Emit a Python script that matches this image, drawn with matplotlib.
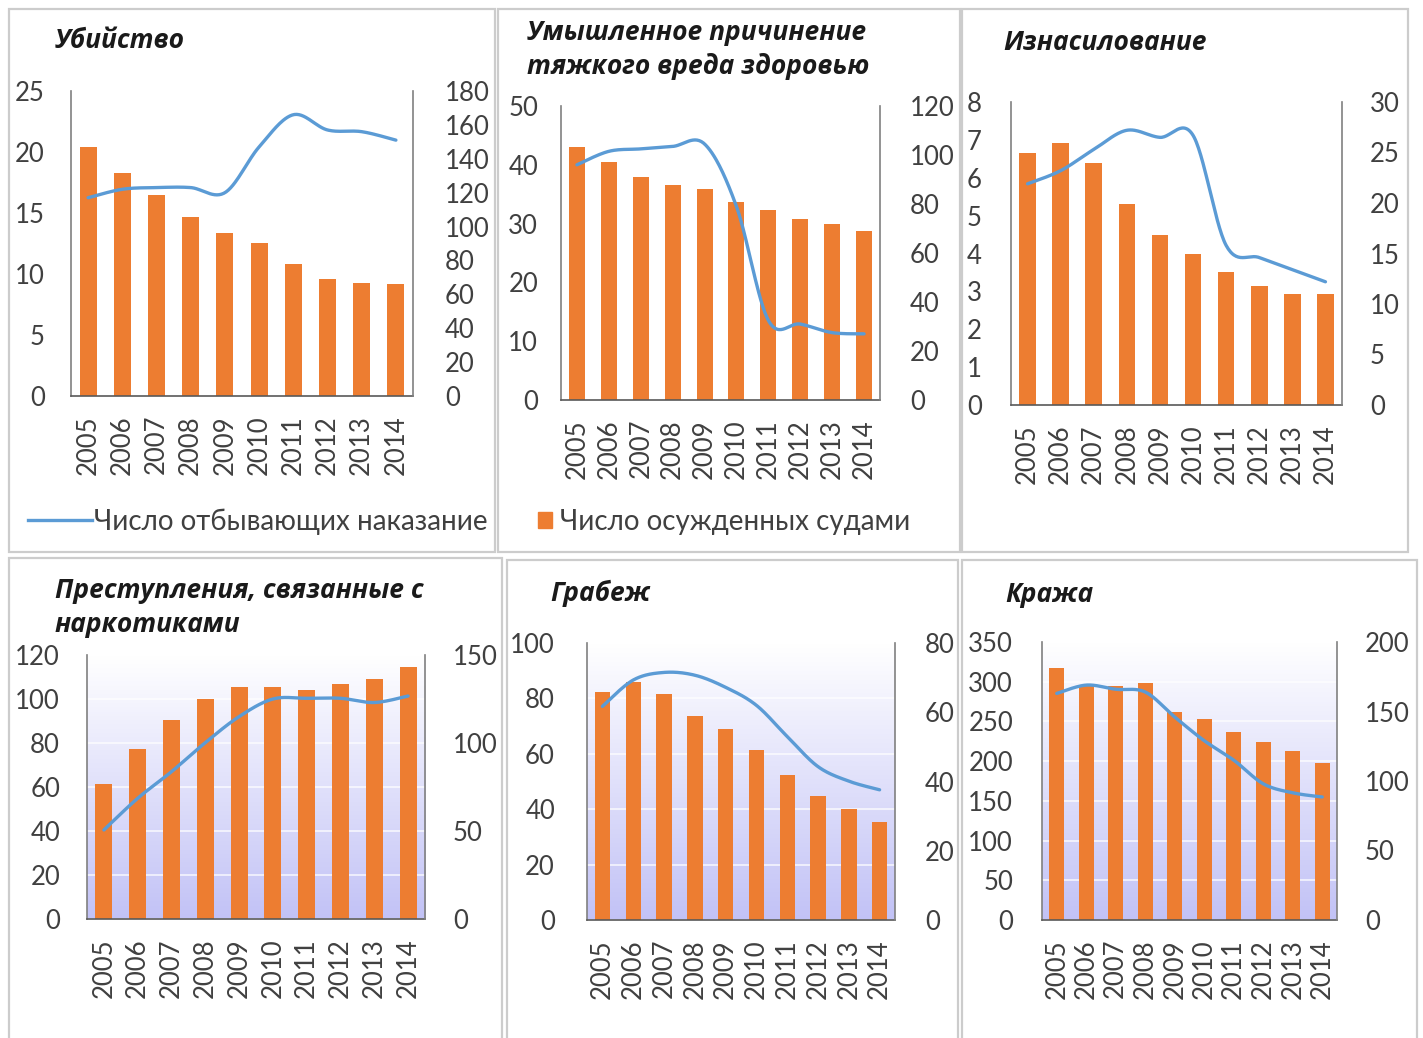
import numpy as np
import matplotlib
matplotlib.use("Agg")
import matplotlib.pyplot as plt
from matplotlib.patches import Rectangle
from matplotlib.lines import Line2D

plt.rcParams['font.family'] = ['Lato', 'Open Sans', 'DejaVu Sans']

# ---------------- data ----------------
years = ['2005', '2006', '2007', '2008', '2009', '2010', '2011', '2012', '2013', '2014']

murder_convicted = [20.4, 18.3, 16.5, 14.7, 13.4, 12.5, 10.8, 9.6, 9.3, 9.2]
murder_serving = [117, 122, 123, 123, 120, 147, 166, 157, 156, 151]

harm_convicted = [43.0, 40.5, 38.0, 36.6, 35.9, 33.7, 32.3, 30.8, 29.9, 28.8]
harm_serving = [96, 101.5, 102.5, 103.5, 104.5, 79, 32.5, 31, 27.5, 27]

rape_convicted = [6.65, 6.92, 6.4, 5.32, 4.5, 4.0, 3.52, 3.13, 2.94, 2.94]
rape_serving = [21.9, 23.2, 25.3, 27.2, 26.5, 26.7, 15.8, 14.6, 13.4, 12.2]

drugs_convicted = [61.2, 77.3, 90.5, 100, 105.5, 105.5, 104.1, 106.7, 109, 114.7]
drugs_serving = [50.6, 68.6, 83.7, 100.2, 115, 125, 125.4, 125.4, 123, 126.7]

robbery_convicted = [82.2, 85.9, 81.7, 73.7, 68.9, 61.4, 52.2, 44.9, 40.1, 35.3]
robbery_serving = [61.7, 69.3, 71.5, 70.7, 67.2, 62.0, 53.0, 44.3, 40.1, 37.6]

theft_convicted = [317, 295, 295, 298, 262, 253, 237, 224, 213, 198]
theft_serving = [163, 169, 166, 164, 146, 129, 115, 98, 91.5, 88.5]

titles = [
    ['Убийство'],
    ['Умышленное причинение', 'тяжкого вреда здоровью'],
    ['Изнасилование'],
    ['Преступления, связанные с', 'наркотиками'],
    ['Грабеж'],
    ['Кража'],
]
legend_line = 'Число отбывающих наказание'
legend_bar = 'Число осужденных судами'

left_ticks = [[0, 5, 10, 15, 20, 25], [0, 10, 20, 30, 40, 50], [0, 1, 2, 3, 4, 5, 6, 7, 8],
              [0, 20, 40, 60, 80, 100, 120], [0, 20, 40, 60, 80, 100],
              [0, 50, 100, 150, 200, 250, 300, 350]]
right_ticks = [[0, 20, 40, 60, 80, 100, 120, 140, 160, 180], [0, 20, 40, 60, 80, 100, 120],
               [0, 5, 10, 15, 20, 25, 30], [0, 50, 100, 150], [0, 20, 40, 60, 80],
               [0, 50, 100, 150, 200]]

convicted = [murder_convicted, harm_convicted, rape_convicted,
             drugs_convicted, robbery_convicted, theft_convicted]
serving = [murder_serving, harm_serving, rape_serving,
           drugs_serving, robbery_serving, theft_serving]

# ---------------- layout (pixels) ----------------
W, H = 1423, 1038
BAR_C = '#ED7D31'
LINE_C = '#5B9BD5'
TXT_C = '#404040'
FS = 18.5
LEG_FS = 20
TITLE_FS = 19

boxes = [(9, 9, 495, 552), (498, 9, 960, 552), (962, 9, 1408, 552),
         (9, 558, 502, 1045), (507, 560, 958, 1045), (962, 560, 1417, 1045)]
plots = [(71, 91, 413, 396), (561, 106, 880, 400), (1011, 102, 1342, 405),
         (87, 655, 425, 919), (587, 643, 895, 920), (1042, 642, 1337, 920)]
pads = [(26, 32), (23, 30), (29, 28), (27, 28), (32, 30), (29, 28)]
title_pos = [(55, [41]), (527, [33, 67]), (1003, [42]),
             (55, [590, 624]), (550, [593]), (1005, [595])]
gradient = [False, False, False, True, True, True]

fig = plt.figure(figsize=(W / 100, H / 100), dpi=100)


def fx(x):
    return x / W


def fy(y):
    return 1 - y / H


def smooth(xs, ys, n=30):
    xs = np.asarray(xs, float)
    ys = np.asarray(ys, float)
    px, py = [], []
    m = len(xs)
    for i in range(m - 1):
        i0, i3 = max(i - 1, 0), min(i + 2, m - 1)
        c1x = xs[i] + (xs[i + 1] - xs[i0]) / 6
        c1y = ys[i] + (ys[i + 1] - ys[i0]) / 6
        c2x = xs[i + 1] - (xs[i3] - xs[i]) / 6
        c2y = ys[i + 1] - (ys[i3] - ys[i]) / 6
        t = np.linspace(0, 1, n, endpoint=(i == m - 2))
        a = (1 - t) ** 3
        b = 3 * (1 - t) ** 2 * t
        c = 3 * (1 - t) * t ** 2
        d = t ** 3
        px.append(a * xs[i] + b * c1x + c * c2x + d * xs[i + 1])
        py.append(a * ys[i] + b * c1y + c * c2y + d * ys[i + 1])
    return np.concatenate(px), np.concatenate(py)


# panel frames
for (x0, y0, x1, y1) in boxes:
    fig.patches.append(Rectangle((fx(x0), fy(y1)), fx(x1 - x0), (y1 - y0) / H,
                                 transform=fig.transFigure, fill=False,
                                 edgecolor='#cccccc', linewidth=1.6, zorder=0))

x = np.arange(len(years))
for k in range(6):
    x0, y0, x1, y1 = plots[k]
    ax = fig.add_axes([fx(x0), fy(y1), (x1 - x0) / W, (y1 - y0) / H])
    ax.set_facecolor('none')
    ax2 = ax.twinx()
    if gradient[k]:
        top = np.array([1.0, 1.0, 1.0])
        bot = np.array([194, 194, 246]) / 255.0
        t = np.linspace(0, 1, 256)[:, None]
        img = (top[None, :] * (1 - t) + bot[None, :] * t)[:, None, :]
        ax.imshow(img, extent=[0, 1, 0, 1], transform=ax.transAxes,
                  aspect='auto', zorder=0, interpolation='bilinear')
        ax.yaxis.grid(True, color='white', linewidth=1.2, alpha=0.8)
        ax.set_axisbelow(True)
    ax.bar(x, convicted[k], width=0.5, color=BAR_C, zorder=2)
    sx, sy = smooth(x, serving[k])
    ax2.plot(sx, sy, color=LINE_C, linewidth=2.4, solid_capstyle='round')

    ax.set_xlim(-0.5, len(years) - 0.5)
    ax.set_ylim(0, left_ticks[k][-1])
    ax2.set_ylim(0, right_ticks[k][-1])
    ax.set_yticks(left_ticks[k])
    ax2.set_yticks(right_ticks[k])
    ax.set_xticks(x)
    ax.set_xticklabels(years, rotation=90)
    lp, rp = pads[k]
    ax.tick_params(axis='y', length=0, pad=lp * 0.72, labelsize=FS, labelcolor=TXT_C)
    ax2.tick_params(axis='y', length=0, pad=rp * 0.72, labelsize=FS, labelcolor=TXT_C)
    ax.tick_params(axis='x', length=0, pad=19 * 0.72, labelsize=FS, labelcolor=TXT_C)
    for a in (ax, ax2):
        a.spines['top'].set_visible(False)
        a.spines['left'].set_color('#808080')
        a.spines['right'].set_color('#808080')
        a.spines['bottom'].set_color('#595959')
        for s in ('left', 'right', 'bottom'):
            a.spines[s].set_linewidth(1.2)
    ax.spines['right'].set_visible(False)
    ax2.spines['left'].set_visible(False)
    ax2.spines['bottom'].set_visible(False)

    tx, tys = title_pos[k]
    for line_txt, ty in zip(titles[k], tys):
        fig.text(fx(tx), fy(ty), line_txt, fontsize=TITLE_FS, fontweight='bold',
                 fontstyle='italic', color='#1a1a1a', ha='left', va='center',
                 family=['Open Sans', 'Lato', 'DejaVu Sans'])

# legends
fig.legend(handles=[Line2D([], [], color=LINE_C, linewidth=2.4)], labels=[legend_line],
           loc='center left', bbox_to_anchor=(fx(28), fy(522)), frameon=False,
           fontsize=LEG_FS, handlelength=2.3, handletextpad=0.08, borderpad=0,
           borderaxespad=0, labelcolor=TXT_C)
fig.legend(handles=[Rectangle((0, 0), 1, 1, color=BAR_C)], labels=[legend_bar],
           loc='center left', bbox_to_anchor=(fx(538), fy(522)), frameon=False,
           fontsize=LEG_FS, handlelength=0.5, handleheight=0.5, handletextpad=0.3,
           borderpad=0, borderaxespad=0, labelcolor=TXT_C)

fig.savefig('out.png', dpi=100)
